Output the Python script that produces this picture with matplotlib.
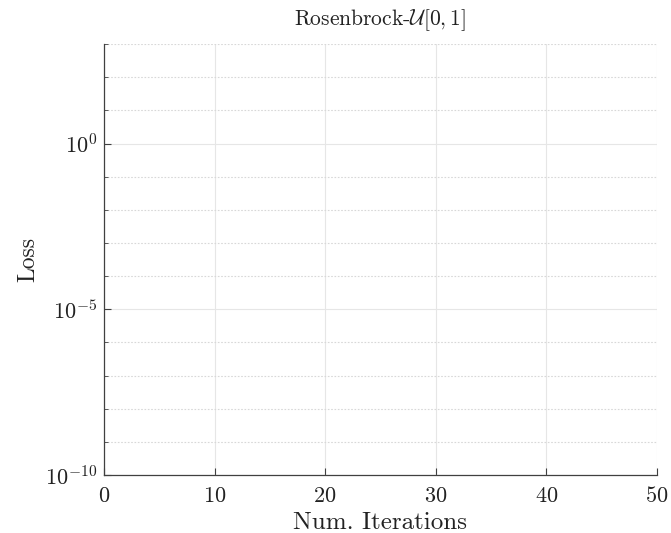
import matplotlib
matplotlib.use("Agg")
import matplotlib.pyplot as plt
import matplotlib.ticker as mticker

plt.rcParams['font.family'] = 'serif'
plt.rcParams['font.serif'] = ['cmr10']
plt.rcParams['mathtext.fontset'] = 'cm'
plt.rcParams['axes.formatter.use_mathtext'] = True

# no curves were drawn in the reference, only the empty axes
iterations = []
loss = []
x_ticks = [0, 10, 20, 30, 40, 50]
y_major = [1e-10, 1e-5, 1e0]
y_minor = [10.0 ** k for k in range(-10, 4)]

fig = plt.figure(figsize=(6.71, 5.33), dpi=100)
ax = fig.add_axes([0.155, 0.109, 0.824, 0.808])
ax.plot(iterations, loss)
ax.set_yscale('log')
ax.set_xlim(0, 50)
ax.set_ylim(1e-10, 1e3)
ax.set_xticks(x_ticks)
ax.yaxis.set_major_locator(mticker.FixedLocator(y_major))
ax.yaxis.set_minor_locator(mticker.FixedLocator(y_minor))
ax.yaxis.set_minor_formatter(mticker.NullFormatter())

ax.grid(True, which='major', color='#e6e6e6', linewidth=0.8, linestyle='-')
ax.grid(True, which='minor', axis='y', color='#d8d8d8', linewidth=0.8, linestyle=(0, (1.5, 1.5)))
ax.set_axisbelow(True)

for side in ['top', 'right']:
    ax.spines[side].set_visible(False)
for side in ['left', 'bottom']:
    ax.spines[side].set_color('#404040')
    ax.spines[side].set_linewidth(0.9)

ax.tick_params(which='both', direction='in', colors='#404040', labelcolor='#222222', labelsize=16, top=False, right=False)
ax.tick_params(which='major', length=5)
ax.tick_params(which='minor', length=3)
ax.tick_params(axis='x', which='major', pad=8)
ax.tick_params(axis='y', which='major', pad=5)

ax.set_xlabel('Num. Iterations', fontsize=18, color='#222222', labelpad=4)
ax.set_ylabel('Loss', fontsize=17, color='#222222', labelpad=4)
ax.set_title(r'Rosenbrock-$\mathcal{U}[0,1]$', fontsize=15.5, color='#222222', pad=14)

fig.savefig('out.png', dpi=100)
